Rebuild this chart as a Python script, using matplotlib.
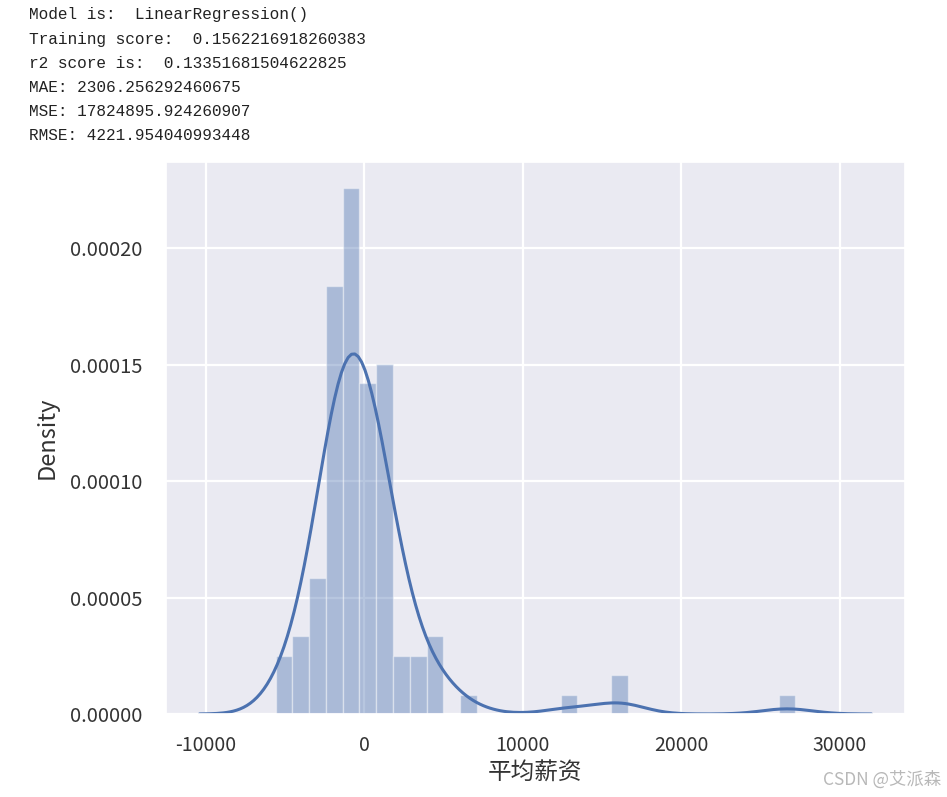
import numpy as np
import matplotlib
matplotlib.use("Agg")
import matplotlib.pyplot as plt
import seaborn as sns

# ---- data ----
report_lines = [
    "Model is:  LinearRegression()",
    "Training score:  0.1562216918260383",
    "r2 score is:  0.13351681504622825",
    "MAE: 2306.256292460675",
    "MSE: 17824895.924260907",
    "RMSE: 4221.954040993448",
]
# histogram of residuals (counts per bin), 31 equal bins between min and max
bin_counts = [3, 4, 7, 22, 27, 17, 18, 3, 3, 4, 0, 1, 0, 0, 0, 0, 0, 1, 0, 0,
              2, 0, 0, 0, 0, 0, 0, 0, 0, 0, 1]
resid_min = -5595.0
resid_max = 27215.0
y_ticks = [0.0, 0.00005, 0.0001, 0.00015, 0.0002]
x_label = "平均薪资"
y_label = "Density"
watermark = "CSDN @艾派森"

sns.set_theme(style="darkgrid")
plt.rcParams['font.family'] = ['Noto Sans CJK SC', 'DejaVu Sans']
plt.rcParams['axes.unicode_minus'] = False

nb = len(bin_counts)
edges = np.linspace(resid_min, resid_max, nb + 1)
centers = (edges[:-1] + edges[1:]) / 2
samples = np.repeat(centers, bin_counts)

fig = plt.figure(figsize=(9.47, 7.97), dpi=100)
ax = fig.add_axes([166 / 947, (797 - 714) / 797, (905 - 166) / 947, (714 - 162) / 797])

color = "#4c72b0"
ax.hist(samples, bins=edges, density=True, color=color, alpha=0.4,
        edgecolor="white", linewidth=1.0)

# gaussian KDE (scott bandwidth), cut=3
n = len(samples)
bw = samples.std(ddof=1) * n ** (-1 / 5)
grid = np.linspace(resid_min - 3 * bw, resid_max + 3 * bw, 200)
dens = np.exp(-0.5 * ((grid[:, None] - samples[None, :]) / bw) ** 2).sum(axis=1)
dens /= (n * bw * np.sqrt(2 * np.pi))
ax.plot(grid, dens, color=color, lw=2.2)

ax.set_xticks([-10000, 0, 10000, 20000, 30000])
ax.set_yticks(y_ticks)
ax.set_yticklabels([f"{v:.5f}" for v in y_ticks])
ax.grid(color="white", lw=1.6)
ax.tick_params(axis="x", labelsize=14, colors="#333333", pad=9)
ax.tick_params(axis="y", labelsize=14.5, colors="#333333", pad=11)
ax.set_xlabel(x_label, fontsize=17, color="#333333", labelpad=4)
ax.set_ylabel(y_label, fontsize=17, color="#333333", labelpad=8)

for i, line in enumerate(report_lines):
    fig.text(29 / 947, 1 - (15 + 24.2 * i) / 797, line, family="Liberation Mono",
             fontsize=11.6, color="#222222", va="center", ha="left")

fig.text(941 / 947, 1 - 780 / 797, watermark, fontsize=12.5, color="#b8b8b8",
         ha="right", va="center")

fig.savefig("out.png", dpi=100)
